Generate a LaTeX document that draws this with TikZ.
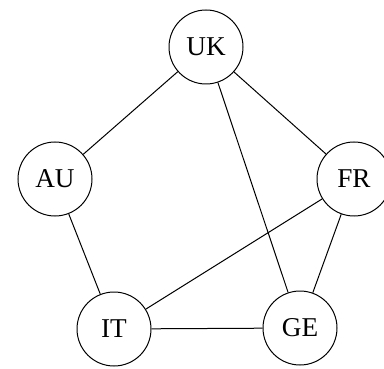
\documentclass[tikz,border=0pt]{standalone}
\usepackage{fontspec}
\setmainfont{Liberation Serif}
\usepackage{tikz}
\usetikzlibrary{positioning}

\tikzset{
  country/.style={draw, circle, line width=0.5pt, minimum size=37pt, inner sep=0pt, font=\fontsize{13.6}{16}\selectfont},
  border/.style={line width=0.5pt}
}

\begin{document}
\begin{tikzpicture}[x=0.5pt, y=-0.5pt]
  \useasboundingbox (0,0) rectangle (384,368);
  % countries
  \node[country] (UK) at (206,47) {UK};
  \node[country] (AU) at (55,179) {AU};
  \node[country] (FR) at (354,179) {FR};
  \node[country] (IT) at (114,329) {IT};
  \node[country] (GE) at (300,328) {GE};
  % shared borders
  \draw[border] (UK) -- (AU);
  \draw[border] (UK) -- (FR);
  \draw[border] (UK) -- (GE);
  \draw[border] (AU) -- (IT);
  \draw[border] (FR) -- (IT);
  \draw[border] (FR) -- (GE);
  \draw[border] (IT) -- (GE);
\end{tikzpicture}
\end{document}
